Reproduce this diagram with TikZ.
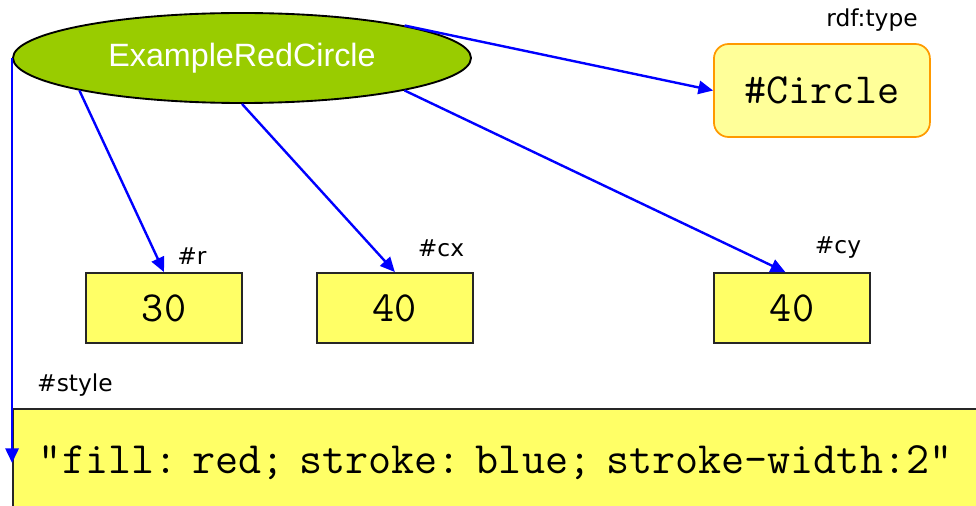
\documentclass[tikz,border=0pt]{standalone}
\usepackage{fontspec}
\usepackage{tikz}
\usetikzlibrary{arrows.meta,positioning,shapes.geometric}
\newfontfamily\arialfont{Liberation Sans}
\newfontfamily\verdanafont{DejaVu Sans}
\definecolor{nodeGreen}{HTML}{99CC00}
\definecolor{typeFill}{HTML}{FFFF99}
\definecolor{typeLine}{HTML}{FF9900}
\definecolor{valFill}{HTML}{FFFF66}
\definecolor{linkBlue}{HTML}{0000FF}

\begin{document}
\begin{tikzpicture}[
            x=0.75pt, y=-0.75pt,
            resource/.style={
                    ellipse,
                    draw=black,
                    fill=nodeGreen,
                    line width=1.4pt,
                    inner sep=0pt,
                    minimum width=343.5pt,
                    minimum height=67.5pt,
                    text=white,
                    font=\arialfont\fontsize{24.2}{28}\selectfont
                },
            typebox/.style={
                    draw=typeLine,
                    fill=typeFill,
                    rectangle,
                    rounded corners=11pt,
                    line width=1.3pt,
                    minimum width=162pt,
                    minimum height=69.75pt,
                    font=\ttfamily\fontsize{32.2}{35}\selectfont
                },
            valbox/.style={
                    draw=black!85,
                    fill=valFill,
                    rectangle,
                    line width=1.4pt,
                    minimum width=117pt,
                    minimum height=52.5pt,
                    font=\ttfamily\fontsize{32.2}{35}\selectfont
                },
            literal/.style={
                    draw=black!85,
                    fill=valFill,
                    rectangle,
                    line width=1.4pt,
                    anchor=north west,
                    text width=720pt,
                    align=left,
                    inner xsep=19.5pt,
                    inner ysep=0pt,
                    minimum height=81pt,
                    font=\ttfamily\frenchspacing\fontsize{33.6}{37}\selectfont
                },
            propLabel/.style={
                    font=\verdanafont\fontsize{17.5}{20}\selectfont,
                    inner sep=0pt
                },
            arrow/.style={
            -{Triangle[length=11pt,width=10pt]},
            color=linkBlue,
            line width=1.8pt
            }
            ]

            \clip (0,0) rectangle (976,506);
            \useasboundingbox (0,0) rectangle (976,506);

            % 1. Recurso principal (arriba a la izquierda)
            \node[resource] (redCircle) at (242,58) {ExampleRedCircle};

            % 2. Valores de las propiedades
            \node[valbox] (rVal) at (164,308) {30};
            \node[valbox, right=54.75pt of rVal] (cxVal) {40};
            \node[valbox] (cyVal) at (792,308) {40};

            % 3. Clase (arriba a la derecha)
            \node[typebox, anchor=west] (circleType) at (cyVal.west |- 0,90.5) {\#Circle};

            % 4. Literal de estilo (abajo, cortado por el borde)
            \node[literal] (styleVal) at (12,408) {"fill: red; stroke: blue; stroke-width:2"};
            \coordinate (styleIn) at (redCircle.west |- styleVal.center);

            % --- nombres de las propiedades ---
            \node[propLabel] (typeLbl) at (872,20) {rdf:type};
            \node[propLabel] (rLbl) at (192,256) {\#r};
            \node[propLabel] (cxLbl) at (441,248) {\#cx};
            \node[propLabel] (cyLbl) at (838,248) {\#cy};
            \node[propLabel] (styleLbl) at (75,385) {\#style};

            % --- conexiones ---
            \draw[arrow] (redCircle.north east) -- (circleType.west);
            \draw[arrow] (redCircle.south west) -- (rVal.north);
            \draw[arrow] (redCircle.south) -- (cxVal.north);
            \draw[arrow] (redCircle.south east) -- ([xshift=-5pt]cyVal.north);
            \draw[arrow] (redCircle.west) -- (styleIn);

        \end{tikzpicture}
\end{document}
